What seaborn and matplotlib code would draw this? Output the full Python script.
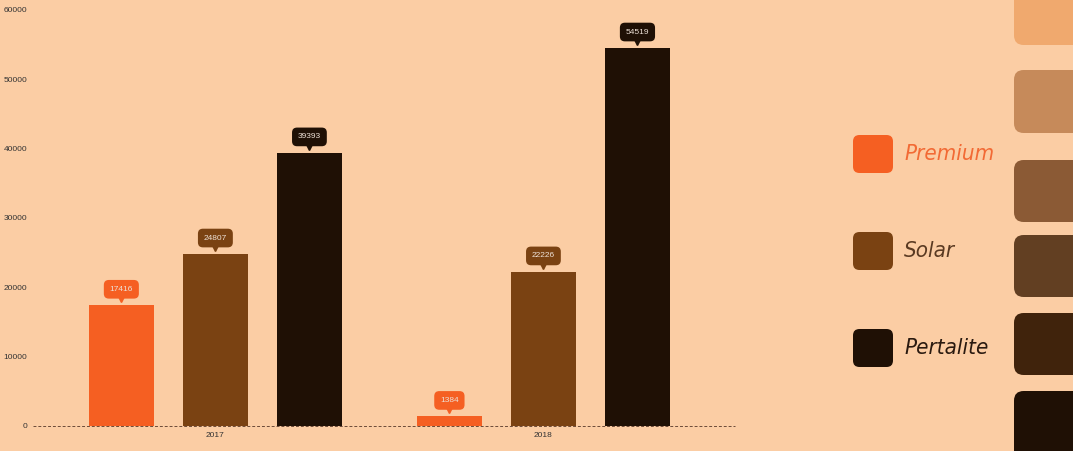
import pandas as pd
import seaborn as sns
import matplotlib.pyplot as plt
from matplotlib.patches import FancyBboxPatch
from matplotlib.transforms import ScaledTranslation

# data
tahun = ["2017", "2018"]
jenis = ["Premium", "Solar", "Pertalite"]
premium = [17416, 1384]
solar = [24807, 22226]
pertalite = [39393, 54519]
warna = ["#F55F22", "#7A4212", "#1F1005"]
warna_teks = ["#F26A35", "#5A3A22", "#2A1A10"]
strip = ["#F0A96E", "#C68A5A", "#8B5A35", "#623F22", "#40230C", "#1F1005"]

bg = "#FBCDA4"

df = pd.DataFrame({
    "tahun": tahun * 3,
    "jenis": [j for j in jenis for _ in tahun],
    "nilai": premium + solar + pertalite,
})

sns.set_theme(style="white")
plt.rcParams["font.family"] = ["Liberation Sans", "DejaVu Sans"]
fig = plt.figure(figsize=(10.73, 4.51), dpi=100, facecolor=bg)
ax = fig.add_axes([33 / 1073, 25 / 451, 702 / 1073, 416 / 451])
ax.set_facecolor(bg)

sns.barplot(data=df, x="tahun", y="nilai", hue="jenis", hue_order=jenis,
            palette=warna, width=0.86, gap=0.31, saturation=1,
            linewidth=0, edgecolor="none", legend=False, ax=ax)

ax.set_ylim(0, 60000)
ax.set_xlim(-0.556, 1.584)
ax.set_yticks(range(0, 60001, 10000))
ax.tick_params(axis="y", labelsize=6, labelcolor="#333333", length=0, pad=4)
ax.tick_params(axis="x", labelsize=6, labelcolor="#333333", length=0, pad=4)
ax.set_xlabel("")
ax.set_ylabel("")
for s in ax.spines.values():
    s.set_visible(False)
ax.axhline(0, color="#6B4A38", lw=0.7, ls=(0, (3, 2)), zorder=3, clip_on=False)

# value labels
geser = ScaledTranslation(0, 4.5 / 72, fig.dpi_scale_trans)
for i, cont in enumerate(ax.containers):
    for bar, v in zip(cont, cont.datavalues):
        x = bar.get_x() + bar.get_width() / 2
        y = bar.get_height()
        ax.annotate(f"{int(v)}", (x, y), xytext=(0, 11.5), textcoords="offset points",
                    ha="center", va="center", fontsize=6, color="#EDE0D6",
                    bbox=dict(boxstyle="round,pad=0.7,rounding_size=0.6",
                              fc=warna[i], ec="none"))
        ax.plot([x], [y], marker="v", ms=5, color=warna[i], linestyle="none",
                clip_on=False, transform=ax.transData + geser)

# legend
leg_y = [135, 232, 329]
for lbl, c, ct, yy in zip(jenis, warna, warna_teks, leg_y):
    fig.patches.append(FancyBboxPatch((853 / 1073, 1 - (yy + 38) / 451), 40 / 1073, 38 / 451,
                                      boxstyle="round,pad=0,rounding_size=0.006",
                                      fc=c, ec="none", transform=fig.transFigure,
                                      mutation_aspect=1073 / 451))
    fig.text(904 / 1073, 1 - (yy + 19) / 451, lbl, fontsize=16, style="italic",
             fontstretch="condensed", weight="light",
             color=ct, va="center", ha="left", family=["DejaVu Sans"])

# palette strip
strip_y = [(-20, 45), (70, 133), (160, 222), (235, 297), (313, 375), (391, 470)]
for c, (y0, y1) in zip(strip, strip_y):
    fig.patches.append(FancyBboxPatch((1014 / 1073, 1 - y1 / 451), 80 / 1073, (y1 - y0) / 451,
                                      boxstyle="round,pad=0,rounding_size=0.009",
                                      fc=c, ec="none", transform=fig.transFigure,
                                      mutation_aspect=1073 / 451))

fig.savefig("out.png", dpi=100, facecolor=bg)
